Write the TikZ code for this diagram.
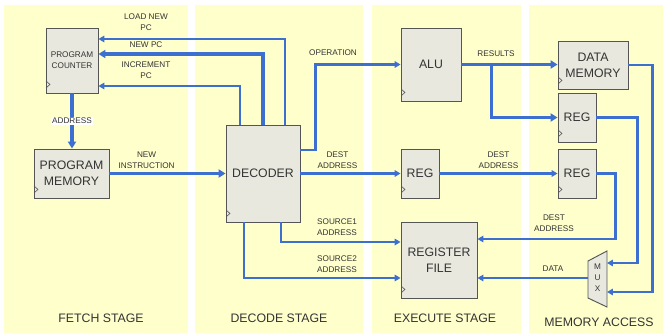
\documentclass[tikz,border=0pt]{standalone}
\usepackage{fontspec}
\setmainfont{Liberation Sans}
\usetikzlibrary{arrows.meta,calc}
\definecolor{pipeblue}{HTML}{3D6FD0}
\definecolor{pipeyellow}{HTML}{FFFFCC}
\definecolor{pipebox}{HTML}{E8E8DF}
\definecolor{pipeedge}{HTML}{555555}
\definecolor{pipetext}{HTML}{333333}

\begin{document}
\begin{tikzpicture}[x=0.03cm, y=-0.03cm, every node/.style={text=pipetext},
  stage/.style={fill=pipeyellow},
  lbl/.style={font=\fontsize{7}{9.4}\selectfont, align=center, inner sep=1pt, text=pipetext},
  big/.style={font=\fontsize{10.5}{13.5}\selectfont, align=center},
  stg/.style={font=\fontsize{10.5}{12}\selectfont},
  blk/.style={draw=pipeedge, fill=pipebox, line width=0.8pt, inner sep=0pt,
    path picture={\draw[pipeedge, line width=0.5pt] ([yshift=4.3pt]path picture bounding box.south west) -- ++(3.4pt,3pt) -- ++(-3.4pt,3pt);}},
  arr/.style={-{Triangle[length=5pt,width=5.5pt]}, pipeblue, line width=1.5pt},
  wide/.style={-{Triangle[length=6pt,width=7pt]}, pipeblue, line width=2.6pt}]
\useasboundingbox (0,0) rectangle (663,333);
\fill[stage] (4,5) rectangle (188,333);
\fill[stage] (195,5) rectangle (363,333);
\fill[stage] (372,5) rectangle (521,333);
\fill[stage] (529,5) rectangle (663,333);
\node[stg] (fetch) at (101,318) {FETCH STAGE};
\node[stg] (decode) at (279,318) {DECODE STAGE};
\node[stg] (execute) at (445,318) {EXECUTE STAGE};
\node[stg] (memacc) at (599,322) {MEMORY ACCESS};

\node[blk, lbl, minimum width=1.56cm, minimum height=1.95cm] (pc) at (72,60.5) {PROGRAM\\COUNTER};
\node[blk, big, minimum width=2.25cm, minimum height=1.47cm] (pm) at (71.5,173.5) {PROGRAM\\MEMORY};
\node[blk, big, minimum width=2.22cm, minimum height=2.91cm] (dec) at (263,173.5) {DECODER};
\node[blk, big, minimum width=1.8cm, minimum height=2.19cm] (alu) at (431,64.5) {ALU};
\node[blk, big, minimum width=1.14cm, minimum height=1.47cm] (regx) at (420,173.5) {REG};
\node[blk, big, minimum width=2.28cm, minimum height=2.28cm] (rf) at (439,260) {REGISTER\\FILE};
\node[blk, big, minimum width=2.1cm, minimum height=1.44cm] (dm) at (593,65) {DATA\\MEMORY};
\node[blk, big, minimum width=1.14cm, minimum height=1.47cm] (regw) at (577,117.5) {REG};
\node[blk, big, minimum width=1.14cm, minimum height=1.47cm] (regm) at (577,173.5) {REG};
\coordinate (muxc) at (597.5,278);
\draw[draw=pipeedge, fill=pipebox, line width=0.8pt] ($(muxc)+(-9.5,-17)$) -- ($(muxc)+(9.5,-27)$) -- ($(muxc)+(9.5,29)$) -- ($(muxc)+(-9.5,20)$) -- cycle;
\node[lbl] (mux) at (muxc) {M\\U\\X};
\coordinate (muxa) at ($(muxc)+(9.5,-15)$);
\coordinate (muxb) at ($(muxc)+(9.5,14)$);
\coordinate (muxo) at ($(muxc)+(-9.5,0)$);
\coordinate (split) at ($(alu.east)+(30,0)$);

\draw[arr] ([xshift=0.66cm]dec.north) |- ([yshift=0.645cm]pc.east);
\draw[wide] (dec.north) |- ([yshift=0.195cm]pc.east);
\draw[arr] ([xshift=-0.69cm]dec.north) |- ([yshift=-0.765cm]pc.east);
\node[lbl] (loadpc) at (146,22) {LOAD NEW\\PC};
\node[lbl] (newpc) at (146,45) {NEW PC};
\node[lbl] (incpc) at (146,70.5) {INCREMENT\\PC};
\draw[wide] (pc.south) -- node[lbl, fill=white] {ADDRESS} (pc.south|-pm.north);
\draw[wide, line width=2.2pt] (pm) -- node[lbl, above=2pt, pos=0.32] {NEW\\INSTRUCTION} (dec);
\draw[arr, line width=1.8pt] ([yshift=0.705cm]dec.east) -- ++(15,0) |- (alu.west);
\node[lbl] (oper) at (333,53) {OPERATION};
\draw[arr, line width=1.8pt] (dec) -- node[lbl, above=2pt, pos=0.37] {DEST\\ADDRESS} (regx);
\draw[arr, line width=1.8pt] ([xshift=0.54cm]dec.south) |- ([yshift=0.54cm]rf.west);
\draw[arr, line width=1.8pt] ([xshift=-0.57cm]dec.south) |- ([yshift=-0.54cm]rf.west);
\node[lbl] (src1) at (337,227.5) {SOURCE1\\ADDRESS};
\node[lbl] (src2) at (337,264) {SOURCE2\\ADDRESS};
\draw[wide] (alu.east) -- (alu.east-|dm.west);
\node[lbl] (results) at (496,54) {RESULTS};
\draw[wide] (split) |- (regw.west);
\draw[arr, line width=1.8pt] (regx) -- node[lbl, above=2pt] {DEST\\ADDRESS} (regm);
\draw[arr, line width=1.8pt] (regm.east) -- ++(19,0) |- ([yshift=0.63cm]rf.east);
\node[lbl] (dest3) at (554,223.5) {DEST\\ADDRESS};
\draw[arr, line width=1.8pt] (regw.east) -- ++(41,0) |- (muxa);
\draw[arr, line width=1.8pt] (dm.east) -- ++(24,0) |- (muxb);
\draw[arr, line width=1.8pt] (muxo) -- (muxo-|rf.east);
\node[lbl] (data) at (553,269) {DATA};
\end{tikzpicture}
\end{document}
